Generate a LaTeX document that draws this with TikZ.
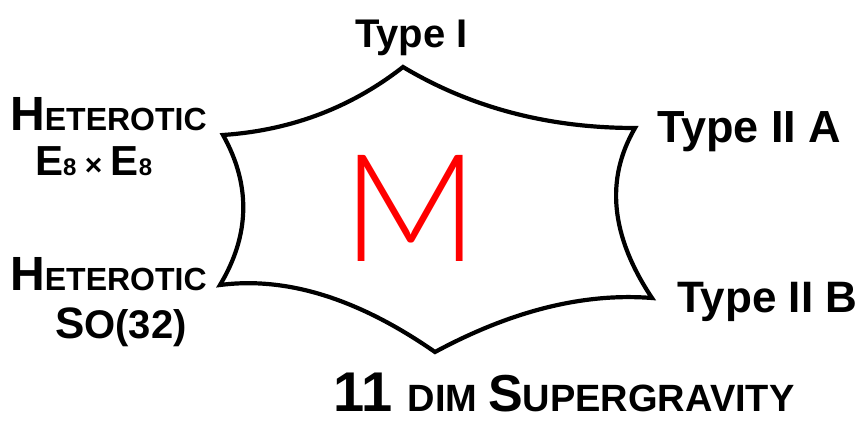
\documentclass[tikz,border=0pt]{standalone}
\usepackage{fontspec}
\usetikzlibrary{calc}
\setmainfont{Liberation Sans}
\newfontfamily\mfont{Lato}[UprightFont=* Light]
\newcommand\fz[1]{\fontsize{#1}{#1}\selectfont}
\begin{document}
\begin{tikzpicture}[x=1pt,y=-1pt,
  edge/.style={line width=4.2pt,line join=miter,black},
  lab/.style={anchor=base west,inner sep=0pt,font=\bfseries},
  mletter/.style={anchor=base,inner sep=0pt,text=red,font=\mfont\fz{150}}]
\useasboundingbox (0,0) rectangle (861,425);
% vertices
\coordinate (t)  at (403,67);
\coordinate (ur) at (635,128);
\coordinate (lr) at (652,298);
\coordinate (b)  at (435,352);
\coordinate (ll) at (220,285);
\coordinate (ul) at (223,135);
% quadratic control points
\coordinate (c1) at (325,128);
\coordinate (c2) at (505,128);
\coordinate (c3) at (590,205);
\coordinate (c4) at (550,290);
\coordinate (c5) at (320,272);
\coordinate (c6) at (265,210);
\draw[edge] (ul) .. controls ($(ul)!2/3!(c1)$) and ($(t)!2/3!(c1)$) .. (t)
  .. controls ($(t)!2/3!(c2)$) and ($(ur)!2/3!(c2)$) .. (ur)
  .. controls ($(ur)!2/3!(c3)$) and ($(lr)!2/3!(c3)$) .. (lr)
  .. controls ($(lr)!2/3!(c4)$) and ($(b)!2/3!(c4)$) .. (b)
  .. controls ($(b)!2/3!(c5)$) and ($(ll)!2/3!(c5)$) .. (ll)
  .. controls ($(ll)!2/3!(c6)$) and ($(ul)!2/3!(c6)$) .. cycle;
% labels
\node[lab] (typeI) at (355,48) {\fz{40}Type I};
\node[lab] (het1) at (10,130) {\fz{48}H\fz{32}ETEROTIC};
\node[lab] (e8) at (35,175) {\fz{42}E\fz{24}8\fz{30} × \fz{42}E\fz{24}8};
\node[lab] (het2) at (10,290) {\fz{48}H\fz{32}ETEROTIC};
\node[lab] (so) at (55,338) {\fz{44}S\fz{40}O(32)};
\node[lab] (typeIIA) at (657,142) {\fz{45}Type II A};
\node[lab] (typeIIB) at (677,312) {\fz{44}Type II B};
\node[lab] (sugra) at (333,411) {\fz{56}11 \fz{38}DIM \fz{52}S\fz{38}UPERGRAVITY};
\node[mletter] (M) at (411,261) {M};
\end{tikzpicture}
\end{document}
